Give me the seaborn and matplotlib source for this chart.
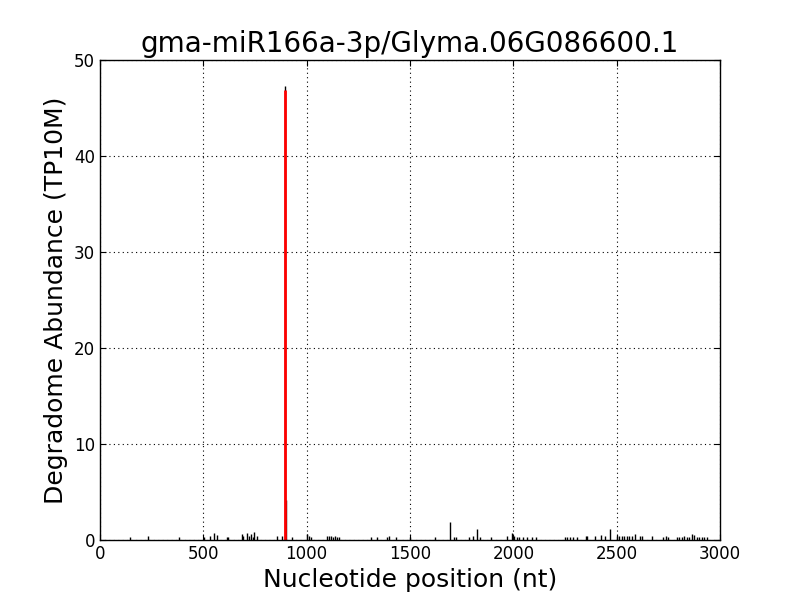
"""Degradome T-plot for gma-miR166a-3p on Glyma.06G086600.1."""

import matplotlib
matplotlib.use("Agg")
import matplotlib.pyplot as plt
import pandas as pd
import seaborn as sns

# degradome tags along the transcript (nt position, TP10M)
positions = [
    145, 231, 384, 503, 532, 553, 568, 614, 621, 685, 694, 710, 721, 729,
    739, 747, 758, 855, 879, 895, 898, 927, 1003, 1011, 1019, 1100, 1108,
    1118, 1129, 1137, 1145, 1157, 1310, 1339, 1387, 1400, 1432, 1500, 1621,
    1694, 1715, 1723, 1786, 1803, 1826, 1839, 1890, 1971, 1994, 2003, 2016,
    2029, 2045, 2065, 2089, 2110, 2250, 2261, 2274, 2287, 2310, 2350, 2358,
    2395, 2423, 2444, 2468, 2503, 2513, 2524, 2536, 2549, 2562, 2573, 2589,
    2613, 2621, 2670, 2726, 2737, 2750, 2790, 2803, 2815, 2826, 2839, 2852,
    2863, 2876, 2887, 2899, 2911, 2922, 2935,
]
abundance = [
    0.35, 0.4, 0.3, 0.3, 0.4, 0.7, 0.5, 0.3, 0.3, 0.6, 0.4, 0.7, 0.4, 0.6,
    0.3, 0.8, 0.4, 0.4, 0.4, 47.3, 4.2, 0.3, 0.6, 0.4, 0.3, 0.4, 0.4,
    0.4, 0.3, 0.4, 0.3, 0.3, 0.3, 0.3, 0.3, 0.4, 0.3, 0.35, 0.3,
    1.85, 0.35, 0.35, 0.3, 0.4, 1.1, 0.3, 0.35, 0.4, 0.7, 0.4, 0.35,
    0.3, 0.3, 0.3, 0.3, 0.3, 0.3, 0.3, 0.3, 0.3, 0.3, 0.4, 0.4,
    0.4, 0.5, 0.45, 1.1, 0.4, 0.4, 0.4, 0.4, 0.4, 0.4, 0.4, 0.6,
    0.4, 0.4, 0.4, 0.3, 0.4, 0.3, 0.3, 0.3, 0.3, 0.4, 0.3, 0.3,
    0.6, 0.5, 0.3, 0.3, 0.3, 0.3, 0.3,
]

# predicted miRNA cleavage site
site_position = [895]
site_abundance = [46.9]

df = pd.DataFrame({"position": positions, "abundance": abundance})

sns.set_style("white")
plt.rcParams["font.family"] = ["DejaVu Sans"]
plt.rcParams.update({
    "text.color": "black",
    "axes.labelcolor": "black",
    "xtick.color": "black",
    "ytick.color": "black",
})

fig = plt.figure(figsize=(8, 6), dpi=100)
ax = fig.add_axes([0.125, 0.1, 0.775, 0.8])

ax.vlines(df["position"], 0, df["abundance"], color="black", linewidth=1)
ax.vlines(site_position, 0, site_abundance, color="red", linewidth=2)

ax.set_xlim(0, 3000)
ax.set_ylim(0, 50)
ax.set_xticks([0, 500, 1000, 1500, 2000, 2500, 3000])
ax.set_yticks([0, 10, 20, 30, 40, 50])
ax.grid(True, color="black", linestyle=(0, (1, 3)), linewidth=0.8)
ax.tick_params(direction="in", top=True, right=True, length=4, labelsize=12,
               bottom=True, left=True, color="black", labelcolor="black")
for spine in ax.spines.values():
    spine.set_color("black")
    spine.set_linewidth(1)

ax.set_title("gma-miR166a-3p/Glyma.06G086600.1", fontsize=20, color="black")
ax.set_xlabel("Nucleotide position (nt)", fontsize=18)
ax.set_ylabel("Degradome Abundance (TP10M)", fontsize=18)

fig.savefig("out.png", dpi=100)
